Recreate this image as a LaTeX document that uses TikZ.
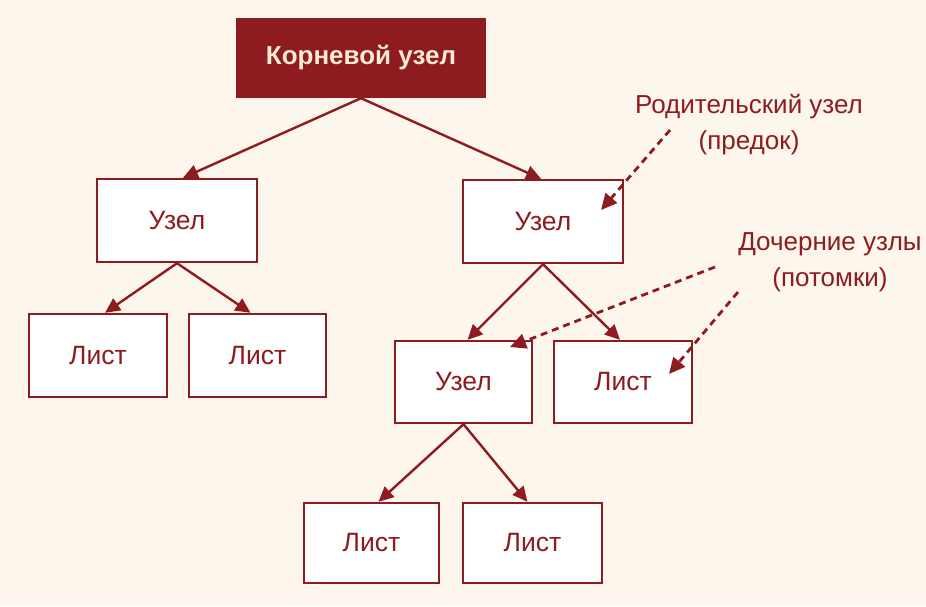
\documentclass[tikz,border=0pt]{standalone}
\usepackage{fontspec}
\setmainfont{Liberation Sans}
\usetikzlibrary{arrows.meta,calc}
\definecolor{dred}{HTML}{8E1B20}
\definecolor{bg}{HTML}{FCF6EC}
\definecolor{cream}{HTML}{FBEBD3}
\tikzset{
  box/.style={draw=dred, line width=2.4pt, fill=white, inner sep=0pt, text=dred,
    font=\fontsize{26.5}{30}\selectfont},
  rootbox/.style={draw=dred, line width=2.4pt, fill=dred, inner sep=0pt, text=cream,
    font=\fontsize{26}{30}\selectfont\bfseries},
  conn/.style={draw=dred, line width=2.4pt, -{Triangle[length=15pt,width=14pt]}},
  dconn/.style={draw=dred, line width=2.8pt, dash pattern=on 7pt off 5pt,
    -{Triangle[length=16pt,width=15pt]}},
  lbl/.style={text=dred, align=center, inner sep=0pt, font=\fontsize{26}{36}\selectfont}
}
\begin{document}
\begin{tikzpicture}[x=1pt,y=-1pt]
\fill[bg] (0,0) rectangle (926,606);
\useasboundingbox (0,0) rectangle (926,606);
\node[rootbox, minimum width=248pt, minimum height=78pt] (root) at (361,58) {Корневой узел};
\node[box, minimum width=160pt, minimum height=83pt] (u1) at (177,220.5) {Узел};
\node[box, minimum width=138pt, minimum height=83pt] (l1) at (98,355.5) {Лист};
\node[box, minimum width=137pt, minimum height=83pt] (l2) at (257.5,355.5) {Лист};
\node[box, minimum width=160pt, minimum height=83pt] (u2) at (543,221.5) {Узел};
\node[box, minimum width=137pt, minimum height=82pt] (u3) at (463.5,382) {Узел};
\node[box, minimum width=138pt, minimum height=82pt] (l3) at (623,382) {Лист};
\node[box, minimum width=135pt, minimum height=80pt] (l4) at (371.5,543) {Лист};
\node[box, minimum width=139pt, minimum height=80pt] (l5) at (532.5,543) {Лист};

\node[lbl] (plbl) at (749,125) {Родительский узел\\(предок)};
\node[lbl] (clbl) at (830,262) {Дочерние узлы\\(потомки)};

\draw[conn] (root.south) -- ($(u1.north)+(6,0)$);
\draw[conn] (root.south) -- ($(u2.north)+(-2,0)$);
\draw[conn] (u1.south) -- ($(l1.north)+(7,0)$);
\draw[conn] (u1.south) -- ($(l2.north)+(-7,0)$);
\draw[conn] (u2.south) -- ($(u3.north)+(4,0)$);
\draw[conn] (u2.south) -- ($(l3.north)+(-3,0)$);
\draw[conn] (u3.south) -- ($(l4.north)+(7,0)$);
\draw[conn] (u3.south) -- ($(l5.north)+(-5,0)$);

\coordinate (ps) at (670,130);
\coordinate (pe) at (601,210);
\coordinate (cs1) at (715,267);
\coordinate (ce1) at (510,347);
\coordinate (cs2) at (738,292);
\coordinate (ce2) at (669,374);
\draw[dconn] (ps) -- (pe);
\draw[dconn] (cs1) -- (ce1);
\draw[dconn] (cs2) -- (ce2);
\end{tikzpicture}
\end{document}
